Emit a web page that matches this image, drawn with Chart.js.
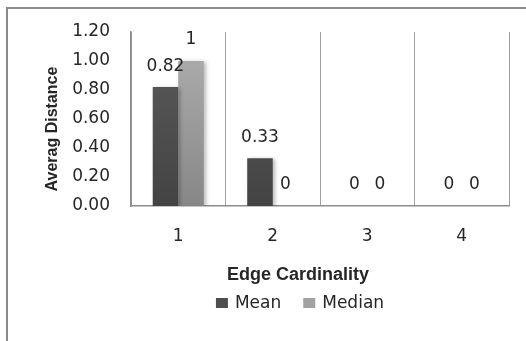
<!DOCTYPE html>
<html>
<head>
<meta charset="utf-8">
<script src="https://cdn.jsdelivr.net/npm/chart.js@4/dist/chart.umd.min.js"></script>
<style>
  html, body { margin: 0; padding: 0; background: #fff; }
  #wrap { width: 526px; height: 341px; position: relative; }
</style>
</head>
<body>
<div id="wrap"><canvas id="chart" width="526" height="341"></canvas></div>
<script>
// dados
const categorias = ['1', '2', '3', '4'];
const media = [0.82, 0.33, 0, 0];
const mediana = [1, 0, 0, 0];
const yTicks = [0, 0.2, 0.4, 0.6, 0.8, 1.0, 1.2];

const TXT = '#262626';
const FONTE = 'DejaVu Sans';

function gradiente(ctx, topo, base) {
    const area = ctx.chart.chartArea;
    if (!area) return base;
    const g = ctx.chart.ctx.createLinearGradient(0, area.top, 0, area.bottom);
    g.addColorStop(0, topo);
    g.addColorStop(1, base);
    return g;
}

// moldura externa (só esquerda e topo aparecem no recorte)
const moldura = {
    id: 'moldura',
    beforeDraw(chart) {
        const c = chart.ctx;
        c.save();
        c.strokeStyle = '#8a8a8a';
        c.lineWidth = 2;
        c.beginPath();
        c.moveTo(7, 341);
        c.lineTo(7, 8);
        c.lineTo(526, 8);
        c.stroke();
        c.restore();
    }
};

// sombra leve nas barras
const sombra = {
    id: 'sombra',
    beforeDatasetsDraw(chart) {
        const c = chart.ctx;
        c.save();
        c.shadowColor = 'rgba(0,0,0,0.28)';
        c.shadowBlur = 4;
        c.shadowOffsetX = 2;
        c.shadowOffsetY = 1;
    },
    afterDatasetsDraw(chart) {
        chart.ctx.restore();
    }
};

// rótulos de valor acima das barras
const rotulos = {
    id: 'rotulos',
    afterDatasetsDraw(chart) {
        const c = chart.ctx;
        c.save();
        c.font = '17px "' + FONTE + '"';
        c.fillStyle = TXT;
        c.textAlign = 'center';
        c.textBaseline = 'middle';
        chart.data.datasets.forEach((ds, i) => {
            chart.getDatasetMeta(i).data.forEach((bar, j) => {
                c.fillText(String(ds.data[j]), bar.x, bar.y - 21);
            });
        });
        c.restore();
    }
};

// títulos dos eixos e legenda, posicionados como no original
const extras = {
    id: 'extras',
    afterDraw(chart) {
        const c = chart.ctx;
        c.save();
        c.fillStyle = TXT;
        c.textAlign = 'center';
        c.textBaseline = 'middle';

        c.font = 'bold 18px "Liberation Sans"';
        c.fillText('Edge Cardinality', 298, 275);

        c.save();
        c.translate(53, 129);
        c.rotate(-Math.PI / 2);
        c.font = 'bold 16px "Liberation Sans"';
        c.fillText('Averag Distance', 0, 0);
        c.restore();

        // legenda
        c.font = '17px "' + FONTE + '"';
        c.textAlign = 'left';
        const itens = chart.data.datasets.map(ds => ({ nome: ds.label, cor: ds.legendColor }));
        const box = 12, gap = 7, entre = 22;
        let total = 0;
        itens.forEach((it, i) => {
            total += box + gap + c.measureText(it.nome).width + (i < itens.length - 1 ? entre : 0);
        });
        let x = 300 - total / 2;
        const y = 303;
        itens.forEach(it => {
            c.fillStyle = it.cor;
            c.fillRect(x, y - 5, box, 10);
            x += box + gap;
            c.fillStyle = TXT;
            c.fillText(it.nome, x, y + 1);
            x += c.measureText(it.nome).width + entre;
        });
        c.restore();
    }
};

new Chart(document.getElementById('chart'), {
    type: 'bar',
    data: {
        labels: categorias,
        datasets: [
            {
                label: 'Mean',
                data: media,
                legendColor: '#4e4e4e',
                backgroundColor: ctx => gradiente(ctx, '#5c5c5c', '#434343'),
                borderWidth: 0,
                categoryPercentage: 0.54,
                barPercentage: 1
            },
            {
                label: 'Median',
                data: mediana,
                legendColor: '#a2a2a2',
                backgroundColor: ctx => gradiente(ctx, '#b0b0b0', '#878787'),
                borderWidth: 0,
                categoryPercentage: 0.54,
                barPercentage: 1
            }
        ]
    },
    options: {
        responsive: false,
        animation: false,
        layout: { padding: { top: 32, right: 17, left: 0, bottom: 0 } },
        plugins: {
            legend: { display: false },
            tooltip: { enabled: false }
        },
        scales: {
            x: {
                grid: { display: true, color: '#a0a0a0', lineWidth: 1, drawTicks: false, offset: true },
                border: { display: true, color: '#8c8c8c', width: 1.5 },
                ticks: { color: TXT, font: { family: FONTE, size: 17 }, padding: 20 },
                afterFit: s => { s.height = 135; }
            },
            y: {
                min: 0,
                max: 1.2,
                grid: { display: false, drawTicks: false },
                border: { display: true, color: '#8c8c8c', width: 1.5 },
                afterBuildTicks: s => { s.ticks = yTicks.map(v => ({ value: v })); },
                ticks: {
                    color: TXT,
                    font: { family: FONTE, size: 17 },
                    padding: 21,
                    callback: v => Number(v).toFixed(2)
                },
                afterFit: s => { s.width = 131; }
            }
        }
    },
    plugins: [moldura, sombra, rotulos, extras]
});
</script>
</body>
</html>
